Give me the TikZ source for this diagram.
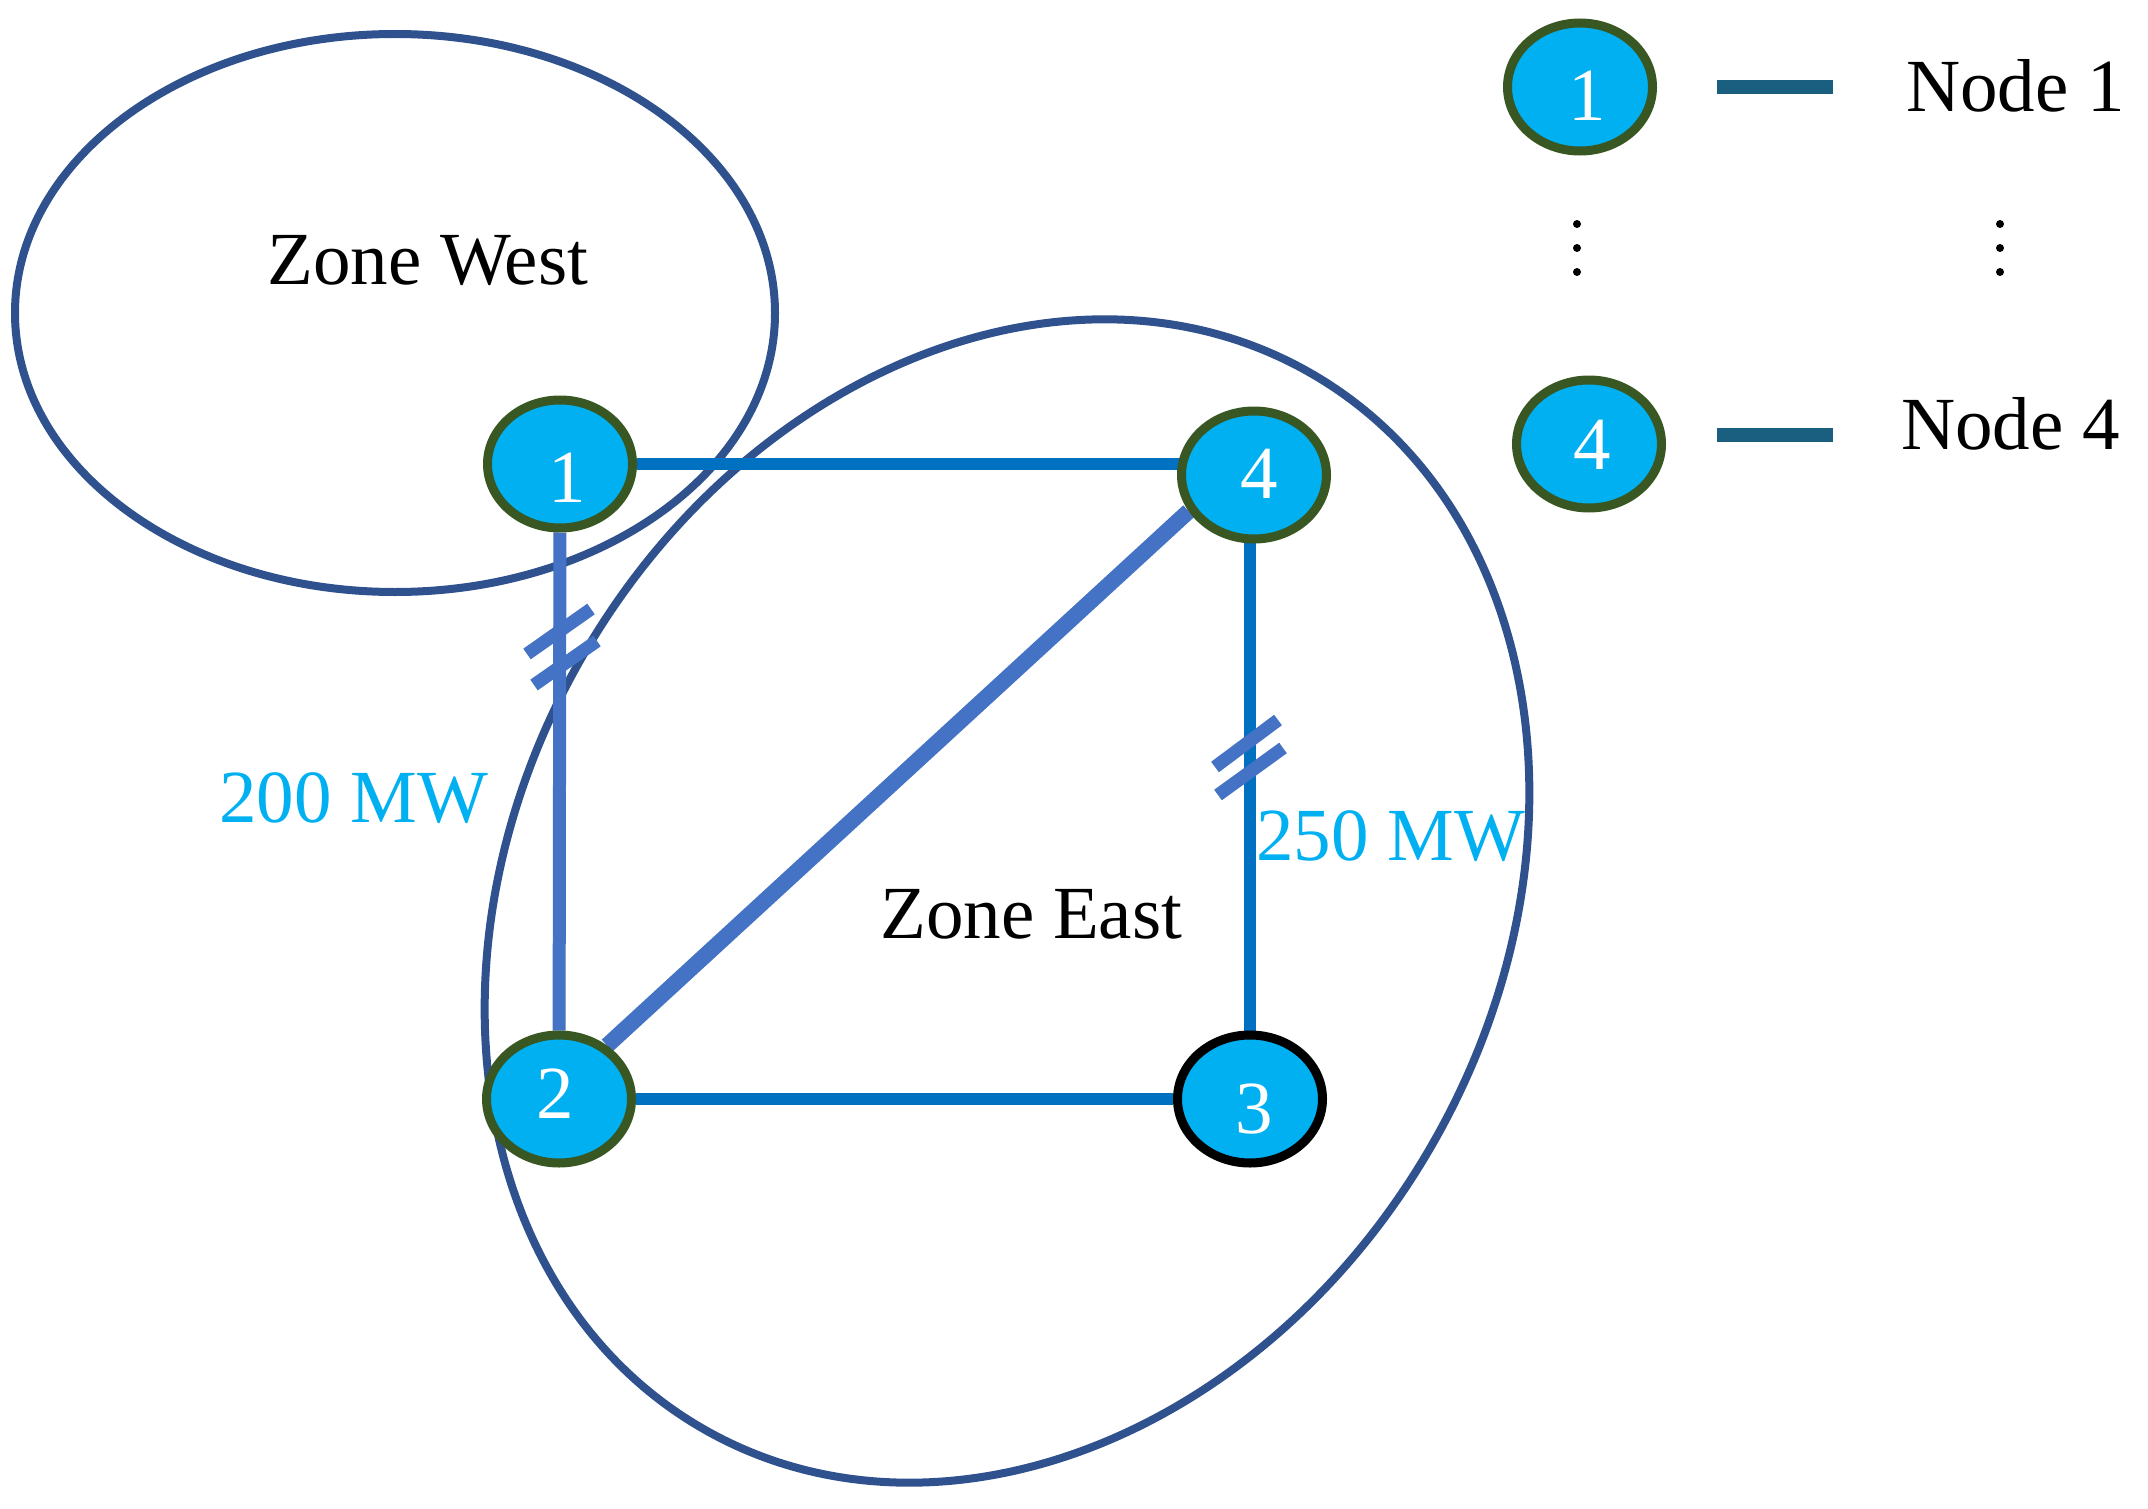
\documentclass[tikz,border=0pt]{standalone}
\usepackage{fontspec}
\setmainfont{Liberation Serif}
\usetikzlibrary{shapes.geometric,backgrounds}
\definecolor{nodefill}{HTML}{00B0F0}
\definecolor{nodeborder}{HTML}{385723}
\definecolor{zoneline}{HTML}{2F528F}
\definecolor{edgedark}{HTML}{0070C0}
\definecolor{edgelight}{HTML}{4472C4}
\definecolor{legendline}{HTML}{1A5E80}
\definecolor{mwcolor}{HTML}{00B0F0}
\newcommand\myfont{\fontsize{75}{80}\selectfont}
\tikzset{
  bus/.style={ellipse, draw=nodeborder, line width=9pt, fill=nodefill,
    minimum width=145pt, minimum height=128pt, inner sep=0pt,
    text=white, font=\myfont, text depth=0pt},
  zone/.style={draw=zoneline, line width=8pt},
  linedark/.style={draw=edgedark, line width=12.5pt},
  linelight/.style={draw=edgelight, line width=13pt},
  diaglight/.style={draw=edgelight, line width=16pt},
  hatchmark/.style={draw=edgelight, line width=13pt},
  legendstroke/.style={draw=legendline, line width=14pt},
  lbl/.style={inner sep=0pt, anchor=base west, font=\myfont},
}
\begin{document}
\begin{tikzpicture}[x=1pt,y=-1pt]
\useasboundingbox (0,0) rectangle (2148,1509);
% nodes
\node[bus, text height=76pt] (n1) at (560,464) {\hspace*{14pt}1};
\node[bus, text height=38pt] (n2) at (559,1099) {2\hspace*{8pt}};
\node[bus, draw=black, text height=68pt] (n3) at (1250,1099) {\hspace*{9pt}3};
\node[bus, text height=46pt] (n4) at (1254,475) {\hspace*{10pt}4};
\node[bus, text height=68pt] (l1) at (1580,87) {\hspace*{14pt}1};
\node[bus, text height=50pt] (l4) at (1589,444) {\hspace*{6pt}4};
% zones and lines
\begin{pgfonlayer}{background}
\draw[zone] (395,313) ellipse [x radius=380pt, y radius=279pt];
\draw[zone, rotate around={60:(1007,901)}] (1007,901) ellipse [x radius=609pt, y radius=490pt];
\draw[linedark] (n1) -- (n1 -| n4);
\draw[linelight] (n1) -- (n2);
\draw[diaglight] (n2.48) -- (n4.209);
\draw[linedark] (n2) -- (n3);
\draw[linedark] (n3 |- n4) -- (n3);
\end{pgfonlayer}
% hatch marks
\draw[hatchmark] (527,654) -- (591,609);
\draw[hatchmark] (534,685) -- (597,641);
\draw[hatchmark] (1215,767) -- (1278,720);
\draw[hatchmark] (1218,795) -- (1283,748);
% legend
\coordinate (a1) at (1717,87);
\coordinate (b1) at (1833,87);
\coordinate (a4) at (1717,435);
\coordinate (b4) at (1833,435);
\draw[legendstroke] (a1) -- (b1);
\draw[legendstroke] (a4) -- (b4);
\foreach \yy in {224,248,272} {
  \fill (1577,\yy) circle (4pt);
  \fill (2000,\yy) circle (4pt);
}
% labels
\node[lbl] (zw) at (267,284) {Zone West};
\node[lbl] (ze) at (880,938) {Zone East};
\node[lbl, text=mwcolor] (mw1) at (219,822) {200 MW};
\node[lbl, text=mwcolor] (mw2) at (1256,860) {250 MW};
\node[lbl] (t1) at (1906,112) {Node 1};
\node[lbl] (t4) at (1901,449) {Node 4};
\end{tikzpicture}
\end{document}
